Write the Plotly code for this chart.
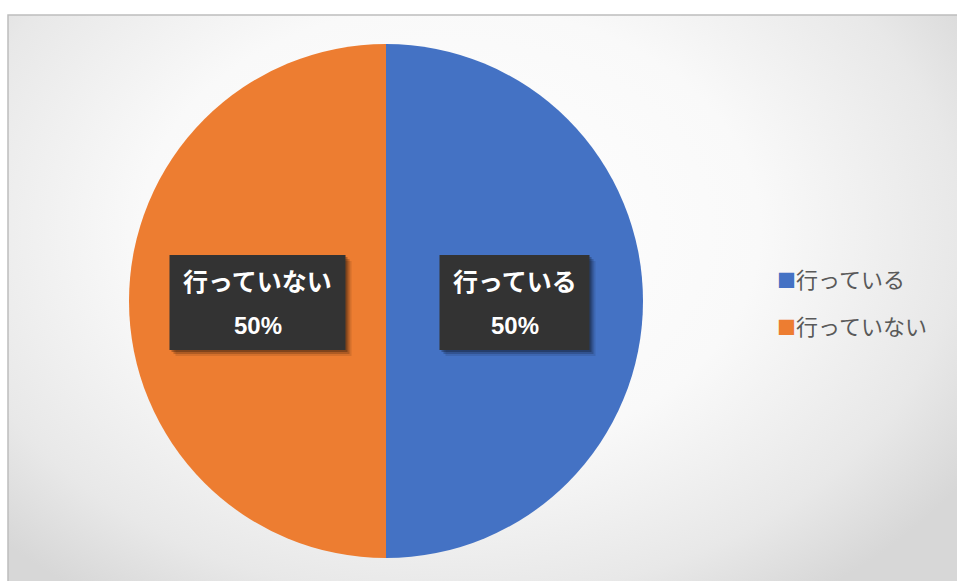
import math
import plotly.graph_objects as go

# ---- data ----
categories = ["行っている", "行っていない"]
values = [50, 50]
colors = ["#4472C4", "#ED7D31"]

# ---- canvas / geometry (pixels) ----
W, H = 957, 581
FX0, FY0 = 8, 15            # top-left corner of the chart frame
CX, CY, R = 386, 301, 257   # pie centre and radius
LEG_X, LEG_Y0, LEG_DY = 775, 278, 47

fig = go.Figure()

# soft radial background inside the frame (bbox offset so the light centre sits up-left)
gx0, gx1, gy0, gy1 = -170, 1070, -220, 680
fig.add_trace(go.Scatter(
    x=[gx0, gx1, gx1, gx0, gx0], y=[gy0, gy0, gy1, gy1, gy0],
    mode="lines", line=dict(width=0), fill="toself",
    fillgradient=dict(type="radial",
                      colorscale=[[0, "#ffffff"], [0.5, "#f9f9f9"],
                                  [0.82, "#e8e8e8"], [1, "#d7d7d7"]]),
    hoverinfo="skip", showlegend=False,
))

fig.add_trace(go.Pie(
    labels=categories, values=values,
    marker=dict(colors=colors, line=dict(width=0)),
    sort=False, direction="clockwise", rotation=0,
    textinfo="none", showlegend=False,
    hovertemplate="%{label}: %{percent}<extra></extra>",
    domain=dict(x=[(CX - R) / W, (CX + R) / W],
                y=[1 - (CY + R) / H, 1 - (CY - R) / H]),
))

shapes = []
annotations = []

# data labels: dark callout boxes at half radius along each slice's mid-angle
total = sum(values)
acc = 0
for lab, v in zip(categories, values):
    mid = (acc + v / 2) / total * 2 * math.pi
    acc += v
    lx = CX + 0.5 * R * math.sin(mid)
    ly = CY - 0.5 * R * math.cos(mid)
    pct = f"{v / total * 100:.0f}%"
    bw = len(lab) * 26 + 20
    x0, x1 = lx - bw / 2, lx + bw / 2
    y0, y1 = ly - 46, ly + 49
    for off, a in ((6, 0.10), (4, 0.18), (2, 0.25)):
        shapes.append(dict(type="rect", xref="x", yref="y", layer="above",
                           x0=x0 + off, x1=x1 + off, y0=y0 + off, y1=y1 + off,
                           fillcolor=f"rgba(0,0,0,{a})", line=dict(width=0)))
    shapes.append(dict(type="rect", xref="x", yref="y", layer="above",
                       x0=x0, x1=x1, y0=y0, y1=y1,
                       fillcolor="#333333", line=dict(width=0)))
    annotations.append(dict(x=lx, y=ly - 21, xref="x", yref="y", showarrow=False,
                            text=f"<b>{lab}</b>",
                            font=dict(family="Noto Sans CJK JP", size=25, color="white")))
    annotations.append(dict(x=lx, y=ly + 24, xref="x", yref="y", showarrow=False,
                            text=f"<b>{pct}</b>",
                            font=dict(family="Liberation Sans, Arial", size=24, color="white")))

# legend entries
for i, (lab, c) in enumerate(zip(categories, colors)):
    annotations.append(dict(
        x=LEG_X, y=LEG_Y0 + i * LEG_DY, xref="x", yref="y",
        xanchor="left", yanchor="middle", showarrow=False,
        text=f"<span style='color:{c};font-size:19px'>■</span>{lab}",
        font=dict(family="Noto Sans CJK JP", size=22, color="#595959"),
    ))

# chart frame border
shapes.append(dict(type="rect", xref="paper", yref="paper", layer="above",
                   x0=FX0 / W, x1=1.01, y0=-0.01, y1=1 - FY0 / H,
                   line=dict(color="#bdbdbd", width=1.5), fillcolor="rgba(0,0,0,0)"))

fig.update_layout(
    width=W, height=H,
    margin=dict(l=0, r=0, t=0, b=0),
    paper_bgcolor="white", plot_bgcolor="white",
    xaxis=dict(range=[FX0, W], domain=[FX0 / W, 1], visible=False, fixedrange=True),
    yaxis=dict(range=[H, FY0], domain=[0, 1 - FY0 / H], visible=False, fixedrange=True),
    shapes=shapes, annotations=annotations,
    showlegend=False,
)

fig.write_html("out.html")
